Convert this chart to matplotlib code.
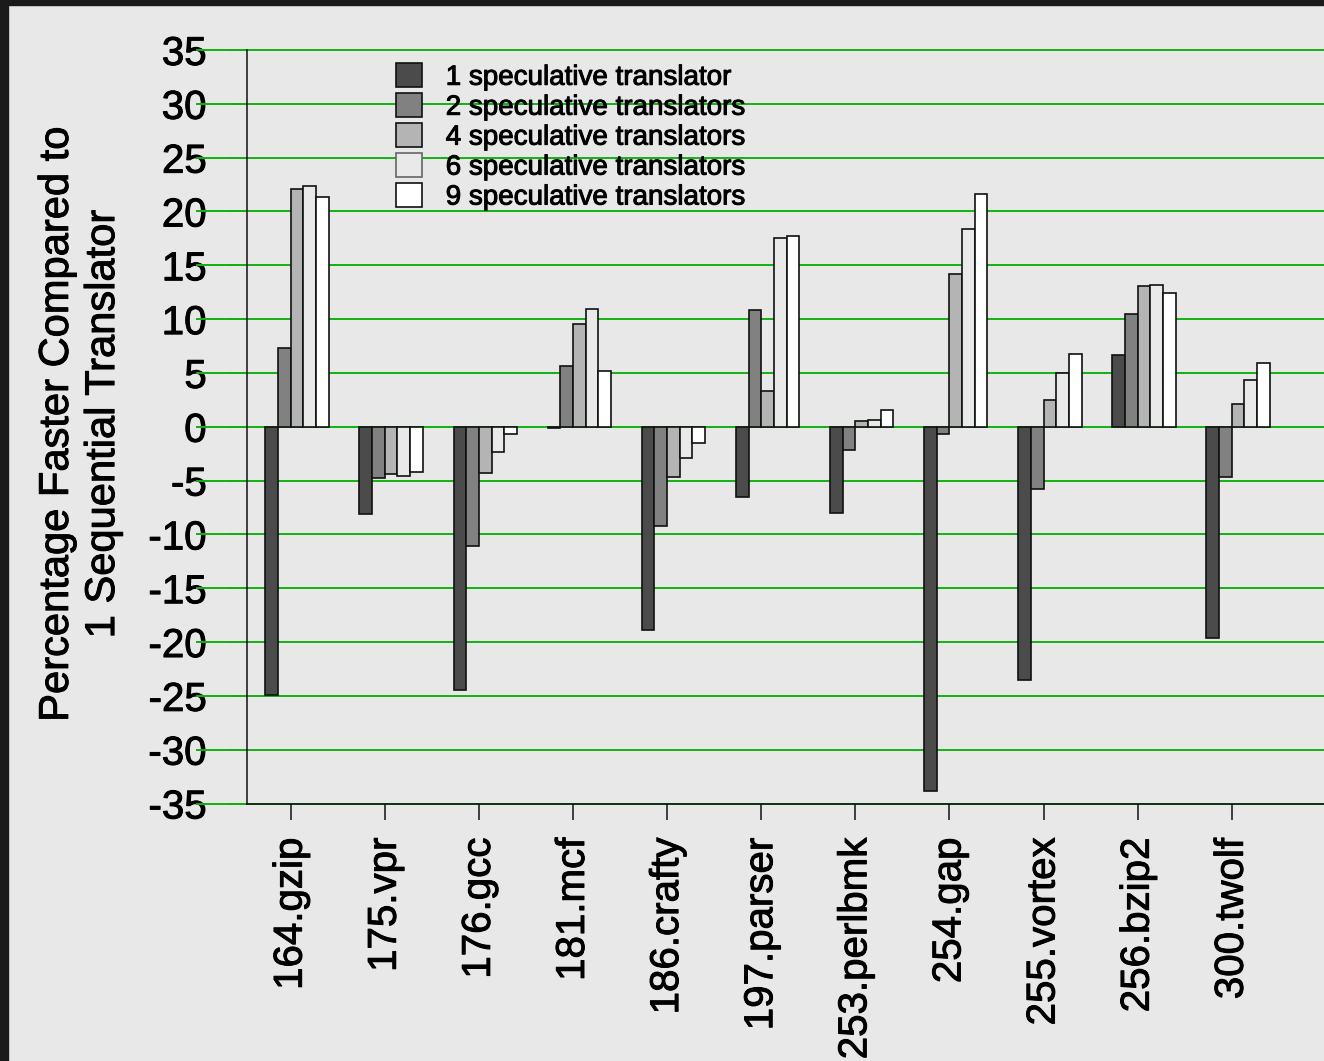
import numpy as np
import matplotlib
matplotlib.use('Agg')
import matplotlib.pyplot as plt
import matplotlib.patheffects as pe
from matplotlib.patches import Rectangle

plt.rcParams['font.family'] = ['Liberation Sans', 'DejaVu Sans']
plt.rcParams['axes.unicode_minus'] = False

# dados
benchmarks = ['164.gzip', '175.vpr', '176.gcc', '181.mcf', '186.crafty',
              '197.parser', '253.perlbmk', '254.gap', '255.vortex',
              '256.bzip2', '300.twolf']
spec1 = [-24.95, -8.1, -24.5, -0.1, -18.9, -6.5, -8.0, -33.8, -23.5, 6.65, -19.6]
spec2 = [7.3, -4.8, -11.1, 5.6, -9.2, 10.8, -2.2, -0.7, -5.8, 10.5, -4.7]
spec4 = [22.1, -4.4, -4.3, 9.5, -4.7, 3.3, 0.55, 14.15, 2.5, 13.1, 2.1]
spec6 = [22.4, -4.6, -2.3, 10.95, -2.9, 17.5, 0.65, 18.4, 4.95, 13.2, 4.35]
spec9 = [21.3, -4.2, -0.7, 5.15, -1.55, 17.7, 1.55, 21.6, 6.75, 12.4, 5.95]

series = [spec1, spec2, spec4, spec6, spec9]
labels = ['1 speculative translator', '2 speculative translators',
          '4 speculative translators', '6 speculative translators',
          '9 speculative translators']
cores = ['#4b4b4b', '#818181', '#b4b4b4', '#e9e9e9', '#ffffff']
yticks = list(range(-35, 40, 5))

bg = '#e8e8e8'
W, H = 1324, 1061
fig = plt.figure(figsize=(W / 100, H / 100), dpi=100, facecolor=bg)
ax = fig.add_axes([247 / W, 1 - 803.5 / H, 1 - 247 / W, (803.5 - 50) / H])
ax.set_facecolor(bg)

x = np.arange(len(benchmarks))
w = 0.1345
for k, (vals, lab, cor) in enumerate(zip(series, labels, cores)):
    ax.bar(x + (k - 2) * w, vals, w, align='edge', color=cor,
           edgecolor='#111111', linewidth=1.2, label=lab, zorder=2)

ax.set_xlim(-0.464, 10.98)
ax.set_ylim(-35, 35)

# linhas de grade verdes (passam por cima dos numeros do eixo y)
xm = -50 / 1077
for yv in yticks:
    ax.axhline(yv, xmin=xm, xmax=1, color='#12b312', lw=1.4, zorder=0.5, clip_on=False)
    ax.axhline(yv, xmin=xm, xmax=0, color='#12b312', lw=1.4, zorder=3, clip_on=False)

ax.set_yticks(yticks)
ax.set_xticks(x)
ax.set_xticklabels(benchmarks, rotation=90)
ax.tick_params(axis='y', length=13, width=1.1, pad=16, labelsize=29, colors='#111111')
ax.tick_params(axis='x', length=11.5, width=1.1, pad=13, labelsize=29, colors='#111111')

for s in ['top', 'right']:
    ax.spines[s].set_visible(False)
for s in ['left', 'bottom']:
    ax.spines[s].set_linewidth(1.1)
    ax.spines[s].set_color('#111111')
    ax.spines[s].set_zorder(4)

ax.set_ylabel('Percentage Faster Compared to\n1 Sequential Translator',
              fontsize=30, multialignment='center')
ax.yaxis.label.set(va='center', rotation_mode='default')
ax.yaxis.set_label_coords((80 - 247) / 1077, 0.503)

leg = ax.legend(loc='upper left', bbox_to_anchor=((396 - 247) / 1077, 0.9823),
                frameon=False, fontsize=20, borderpad=0, borderaxespad=0,
                handlelength=0.94, handleheight=0.94, handletextpad=0.85,
                labelspacing=0.09)
leg.legend_handles[3].set_edgecolor('#666666')

# texto um pouco mais carregado, como no original
grosso = [pe.withStroke(linewidth=0.7, foreground='black')]
textos = ax.get_xticklabels() + ax.get_yticklabels() + leg.get_texts() + [ax.yaxis.label]
for t in textos:
    t.set_color('black')
    t.set_path_effects(grosso)

# moldura escura do print original
fig.patches.append(Rectangle((0, 1 - 5 / H), 1, 5 / H, transform=fig.transFigure,
                             color='#1a1a1a', zorder=10))
fig.patches.append(Rectangle((0, 0), 8 / W, 1, transform=fig.transFigure,
                             color='#1a1a1a', zorder=10))

fig.savefig('out.png', dpi=100, facecolor=bg)
